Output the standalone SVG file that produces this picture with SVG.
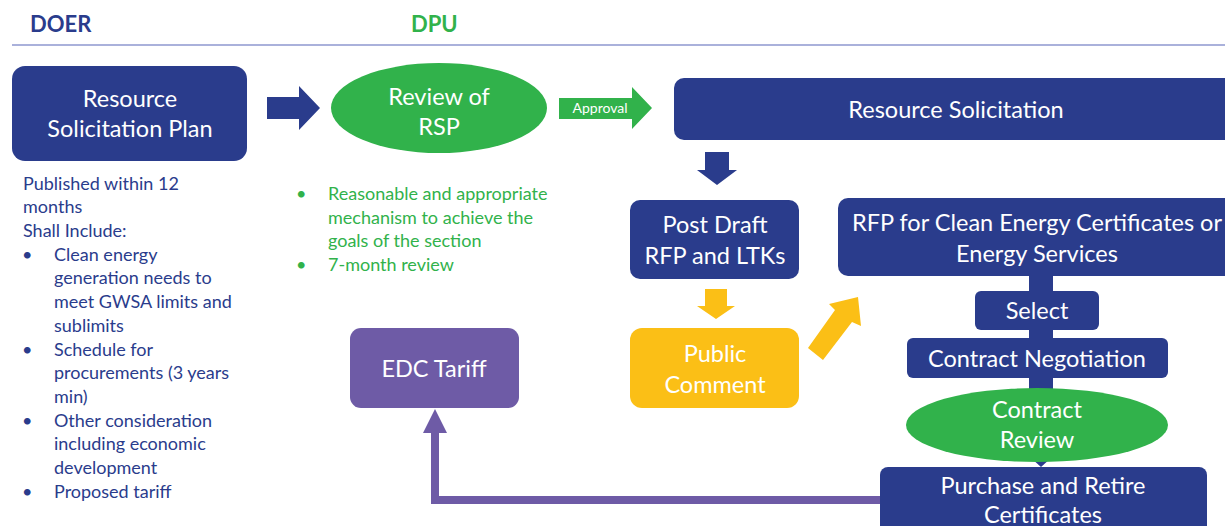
<svg xmlns="http://www.w3.org/2000/svg" width="1225" height="526" viewBox="0 0 1225 526">
<style>
  text { font-family: Lato, "Open Sans", "Liberation Sans", sans-serif; }
  .hdr { font-weight: bold; font-size: 22px; }
  .wt { fill: #ffffff; font-size: 23.5px; text-anchor: middle; }
  .blue { fill: #2a3c8c; }
  .green { fill: #31b24b; }
  .yellow { fill: #fbbf16; }
  .purple { fill: #6e5ba6; }
  .lt { fill: #2a3c8c; font-size: 18px; }
  .gt { fill: #31b24b; font-size: 18px; }
</style>
<rect width="1225" height="526" fill="#ffffff"/>

<g id="headers">
  <text x="30" y="32" class="hdr blue">DOER</text>
  <text x="411" y="32" class="hdr green">DPU</text>
  <line x1="12" y1="45" x2="1225" y2="45" stroke="#8e97cf" stroke-width="1.5"/>
</g>

<g id="connectors">
  <polygon class="blue" points="267,97 299,97 299,86 320,108 299,130 299,119 267,119"/>
  <g id="approval">
    <polygon class="green" points="559,98 632,98 632,87 652,108 632,129 632,119 559,119"/>
    <text x="600" y="113" fill="#ffffff" font-size="14" text-anchor="middle">Approval</text>
  </g>
  <polygon class="blue" points="705,152 729,152 729,170 737,170 717,185 697,170 705,170"/>
  <polygon class="yellow" points="705,289 727,289 727,306 735,306 716,319 697,306 705,306"/>
  <polygon class="yellow" points="808,348 835,310 829,304 858,297 861,326 852,322 823,360"/>
  <rect x="1029" y="270" width="24" height="160" class="blue"/>
  <polygon class="blue" points="1031,458 1051,458 1041,467"/>
  <polygon class="purple" points="880,496 880,504 431,504 431,433 423,433 435,409 447,433 439,433 439,496"/>
</g>

<g id="rsp">
  <rect x="12" y="66" width="235" height="95" rx="13" class="blue"/>
  <text x="130" y="107" class="wt">Resource</text>
  <text x="130" y="137" class="wt">Solicitation Plan</text>
</g>

<g id="doer-notes">
  <text x="23" y="190" class="lt">Published within 12</text>
  <text x="23" y="213" class="lt">months</text>
  <text x="23" y="237" class="lt">Shall Include:</text>
  <text x="22" y="261" class="lt">•</text>
  <text x="54" y="261" class="lt">Clean energy</text>
  <text x="54" y="284" class="lt">generation needs to</text>
  <text x="54" y="308" class="lt">meet GWSA limits and</text>
  <text x="54" y="332" class="lt">sublimits</text>
  <text x="22" y="356" class="lt">•</text>
  <text x="54" y="356" class="lt">Schedule for</text>
  <text x="54" y="379" class="lt">procurements (3 years</text>
  <text x="54" y="403" class="lt">min)</text>
  <text x="22" y="427" class="lt">•</text>
  <text x="54" y="427" class="lt">Other consideration</text>
  <text x="54" y="450" class="lt">including economic</text>
  <text x="54" y="474" class="lt">development</text>
  <text x="22" y="498" class="lt">•</text>
  <text x="54" y="498" class="lt">Proposed tariff</text>
</g>

<g id="review-rsp">
  <ellipse cx="439" cy="108" rx="108" ry="45" class="green"/>
  <text x="439" y="105" class="wt">Review of</text>
  <text x="439" y="135" class="wt">RSP</text>
</g>

<g id="dpu-notes">
  <text x="296" y="200" class="gt">•</text>
  <text x="328" y="200" class="gt">Reasonable and appropriate</text>
  <text x="328" y="224" class="gt">mechanism to achieve the</text>
  <text x="328" y="247" class="gt">goals of the section</text>
  <text x="296" y="271" class="gt">•</text>
  <text x="328" y="271" class="gt">7-month review</text>
</g>

<g id="resource-solicitation">
  <rect x="674" y="78" width="570" height="62" rx="10" class="blue"/>
  <text x="956" y="118" class="wt">Resource Solicitation</text>
</g>

<g id="post-draft">
  <rect x="630" y="200" width="169" height="79" rx="10" class="blue"/>
  <text x="715" y="233" class="wt">Post Draft</text>
  <text x="715" y="264" class="wt">RFP and LTKs</text>
</g>

<g id="public-comment">
  <rect x="630" y="328" width="169" height="80" rx="12" class="yellow"/>
  <text x="715" y="362" class="wt">Public</text>
  <text x="715" y="393" class="wt">Comment</text>
</g>

<g id="rfp">
  <rect x="838" y="198" width="400" height="78" rx="10" class="blue"/>
  <text x="1037" y="231" class="wt" font-size="22.8">RFP for Clean Energy Certificates or</text>
  <text x="1037" y="262" class="wt">Energy Services</text>
</g>

<g id="select">
  <rect x="975" y="291" width="124" height="39" rx="6" class="blue"/>
  <text x="1037" y="319" class="wt">Select</text>
</g>

<g id="contract-negotiation">
  <rect x="907" y="338" width="261" height="40" rx="6" class="blue"/>
  <text x="1037" y="367" class="wt">Contract Negotiation</text>
</g>

<g id="contract-review">
  <ellipse cx="1037" cy="425" rx="131" ry="37" class="green"/>
  <text x="1037" y="418" class="wt">Contract</text>
  <text x="1037" y="448" class="wt">Review</text>
</g>

<g id="purchase">
  <rect x="880" y="467" width="327" height="75" rx="8" class="blue"/>
  <text x="1043" y="494" class="wt">Purchase and Retire</text>
  <text x="1043" y="523" class="wt">Certificates</text>
</g>

<g id="edc-tariff">
  <rect x="350" y="328" width="169" height="80" rx="11" class="purple"/>
  <text x="434" y="377" class="wt">EDC Tariff</text>
</g>
</svg>
